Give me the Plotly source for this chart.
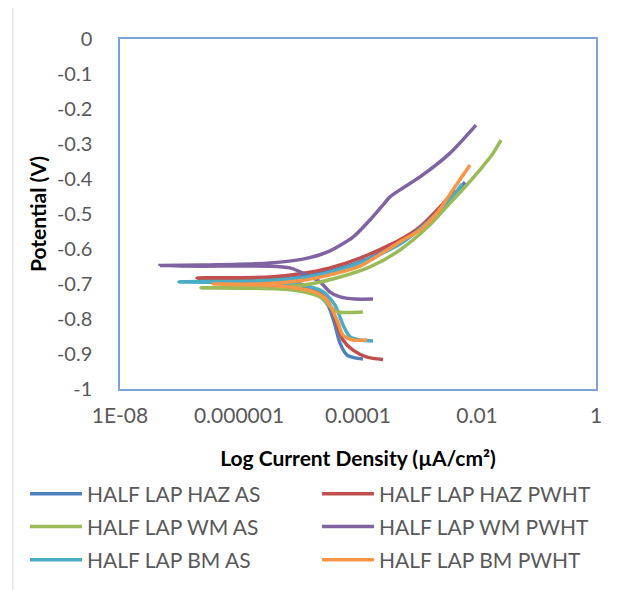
import plotly.graph_objects as go

# ---- data (current density, potential) ----
names = ["HALF LAP HAZ AS", "HALF LAP HAZ PWHT", "HALF LAP WM AS",
         "HALF LAP WM PWHT", "HALF LAP BM AS", "HALF LAP BM PWHT"]
colors = ["#4F81BD", "#C0504D", "#9BBB59", "#8064A2", "#4BACC6", "#F79646"]

haz_as_i = [1.21e-4, 8.9e-5, 6.53e-5, 4.98e-5, 4.1e-5, 3.13e-5, 1.89e-5, 8.7e-6, 2.25e-6, 3.95e-7,
            2.25e-6, 1.06e-5, 3.38e-5, 1.08e-4, 5.08e-4, 1.62e-3, 3.52e-3, 6.28e-3]
haz_as_e = [-0.914, -0.911, -0.903, -0.869, -0.817, -0.760, -0.723, -0.703, -0.694, -0.691,
            -0.689, -0.680, -0.663, -0.637, -0.583, -0.517, -0.460, -0.409]

haz_pwht_i = [2.63e-4, 1.42e-4, 8.24e-5, 5.6e-5, 3.38e-5, 2.3e-5, 1.06e-5, 3.32e-6, 1.97e-7,
              3.32e-6, 1.06e-5, 3.38e-5, 1.08e-4, 5.08e-4, 1.10e-3, 2.39e-3, 4.27e-3]
haz_pwht_e = [-0.916, -0.909, -0.889, -0.860, -0.760, -0.723, -0.700, -0.689, -0.683,
              -0.680, -0.671, -0.654, -0.626, -0.574, -0.537, -0.480, -0.431]

wm_as_i = [1.21e-4, 4.61e-5, 3.66e-5, 2.48e-5, 1.29e-5, 4.89e-6, 2.3e-7,
           4.89e-6, 1.56e-5, 4.98e-5, 1.59e-4, 5.08e-4, 1.62e-3, 3.52e-3, 6.28e-3, 1.12e-2, 1.79e-2, 2.53e-2]
wm_as_e = [-0.780, -0.780, -0.769, -0.740, -0.723, -0.714, -0.711,
           -0.709, -0.700, -0.680, -0.651, -0.603, -0.531, -0.469, -0.423, -0.374, -0.331, -0.289]

wm_pwht_i = [1.79e-4, 8.9e-5, 4.98e-5, 3.38e-5, 2.3e-5, 1.19e-5, 7.2e-6, 3.32e-6, 2.21e-7, 4.7e-8,
             2.21e-7, 3.32e-6, 1.19e-5, 3.01e-5, 8.24e-5, 1.59e-4, 2.63e-4, 3.45e-4, 5.08e-4,
             1.10e-3, 3.52e-3, 9.62e-3]
wm_pwht_e = [-0.743, -0.743, -0.737, -0.723, -0.694, -0.669, -0.654, -0.649, -0.649, -0.647,
             -0.646, -0.640, -0.629, -0.609, -0.566, -0.517, -0.474, -0.451, -0.431,
             -0.394, -0.326, -0.246]

bm_as_i = [1.79e-4, 1.08e-4, 7.34e-5, 5.6e-5, 4.1e-5, 2.48e-5, 1.06e-5, 2.25e-6, 9.8e-8,
           2.25e-6, 1.06e-5, 3.38e-5, 1.08e-4, 5.08e-4, 1.62e-3, 3.52e-3, 5.6e-3]
bm_as_e = [-0.863, -0.860, -0.851, -0.817, -0.760, -0.720, -0.703, -0.697, -0.694,
           -0.691, -0.683, -0.666, -0.640, -0.586, -0.517, -0.460, -0.414]

bm_pwht_i = [1.42e-4, 8.24e-5, 5.6e-5, 4.43e-5, 3.01e-5, 1.89e-5, 7.2e-6, 2.25e-6, 3.66e-7,
             2.25e-6, 1.06e-5, 3.38e-5, 1.08e-4, 5.7e-4, 1.10e-3, 2.13e-3, 3.95e-3, 7.62e-3]
bm_pwht_e = [-0.860, -0.860, -0.846, -0.803, -0.746, -0.723, -0.709, -0.703, -0.700,
             -0.700, -0.691, -0.674, -0.649, -0.574, -0.546, -0.497, -0.431, -0.360]

x_tickvals = [1e-8, 1e-6, 1e-4, 1e-2, 1]
x_ticktext = ["1E-08", "0.000001", "0.0001", "0.01", "1"]
y_tickvals = [0, -0.1, -0.2, -0.3, -0.4, -0.5, -0.6, -0.7, -0.8, -0.9, -1]
y_ticktext = ["0", "-0.1", "-0.2", "-0.3", "-0.4", "-0.5", "-0.6", "-0.7", "-0.8", "-0.9", "-1"]

series = [(haz_as_i, haz_as_e), (haz_pwht_i, haz_pwht_e), (wm_as_i, wm_as_e),
          (wm_pwht_i, wm_pwht_e), (bm_as_i, bm_as_e), (bm_pwht_i, bm_pwht_e)]

# z-order of drawing
draw_order = [0, 1, 3, 4, 2, 5]
legend_ids = ["legend", "legend2", "legend3", "legend4", "legend5", "legend6"]

FONT = "Lato"
TXT = "#595959"
fig = go.Figure()
for k in draw_order:
    xi, ye = series[k]
    fig.add_trace(go.Scatter(
        x=xi, y=ye, mode="lines", name=names[k],
        line=dict(color=colors[k], width=3.5, shape="spline", smoothing=0.7),
        legend=legend_ids[k],
    ))

col_x = [-0.1996, 0.4139]
row_y = [-0.300, -0.394, -0.489]

def leg(k):
    return dict(
        orientation="h", x=col_x[k % 2], y=row_y[k // 2],
        xanchor="left", yanchor="middle",
        font=dict(family=FONT, size=21, color=TXT),
        itemwidth=52, bgcolor="rgba(0,0,0,0)",
    )

fig.update_layout(
    width=637, height=590,
    margin=dict(l=112, r=49, t=31, b=209, autoexpand=False),
    paper_bgcolor="white", plot_bgcolor="white",
    font=dict(family=FONT, color=TXT, size=21),
    showlegend=True,
    **{legend_ids[k]: leg(k) for k in range(6)},
    shapes=[dict(type="rect", xref="paper", yref="paper",
                 x0=-0.225, x1=1.071, y0=-0.62, y1=1.094,
                 line=dict(color="#D9D9D9", width=1), fillcolor="rgba(0,0,0,0)",
                 layer="below")],
)
fig.update_xaxes(
    type="log", range=[-8, 0],
    tickvals=x_tickvals, ticktext=x_ticktext,
    showgrid=False, zeroline=False,
    showline=True, mirror=True, linecolor="#7FA3D8", linewidth=1.5,
    ticks="", ticklabelstandoff=7,
    tickfont=dict(family=FONT, size=21, color=TXT),
    title=dict(text="<b>Log Current Density (µA/cm²)</b>",
               font=dict(family=FONT, size=21, color="black"), standoff=25),
)
fig.update_yaxes(
    range=[-1, 0],
    tickvals=y_tickvals, ticktext=y_ticktext,
    showgrid=False, zeroline=False,
    showline=True, mirror=True, linecolor="#7FA3D8", linewidth=1.5,
    ticks="", ticklabelstandoff=22,
    tickfont=dict(family=FONT, size=20, color=TXT),
    title=dict(text="<b>Potential (V)</b>",
               font=dict(family=FONT, size=21, color="black"), standoff=5),
)

fig.write_html("out.html")
